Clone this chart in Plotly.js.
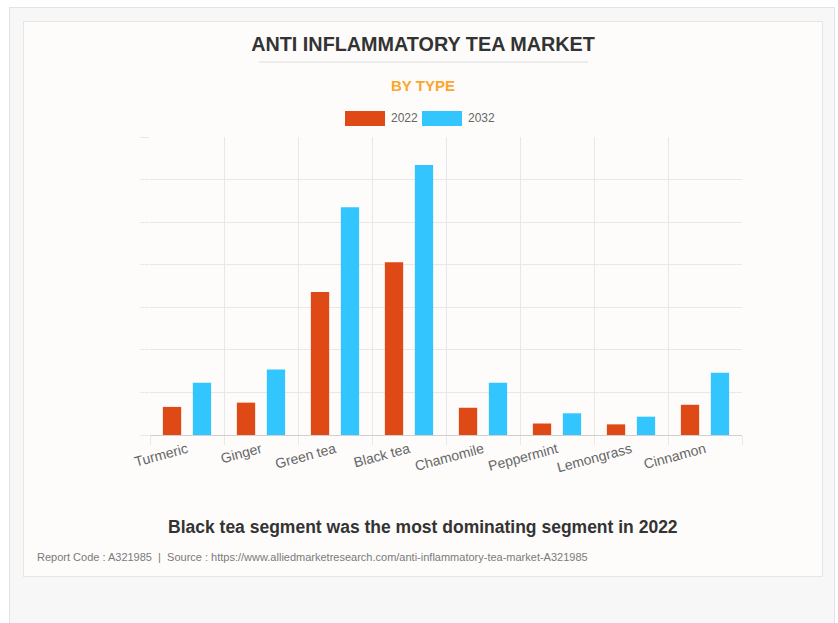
<!DOCTYPE html>
<html>
<head>
<meta charset="utf-8">
<script src="https://cdn.plot.ly/plotly-3.0.1.min.js"></script>
<style>
  html, body { margin:0; padding:0; width:838px; height:623px; overflow:hidden; background:#ffffff; }
  #outer { position:absolute; left:9px; top:7px; width:826px; height:640px; background:#f7f7f7; border:1px solid #e3e3e3; box-sizing:border-box; }
  #card { position:absolute; left:23px; top:21px; width:800px; height:556px; background:#fdfcfb; border:1px solid #e6e6e6; box-sizing:border-box; }
  #chart { position:absolute; left:0; top:0; width:838px; height:623px; }
</style>
</head>
<body>
<div id="outer"></div>
<div id="card"></div>
<div id="chart"></div>
<script>
// ---- data ----
const categories = ["Turmeric", "Ginger", "Green tea", "Black tea", "Chamomile", "Peppermint", "Lemongrass", "Cinnamon"];
const seriesNames = ["2022", "2032"];
const values2022 = [66, 76, 336, 406, 64, 27, 25, 71];
const values2032 = [123, 154, 535, 634, 123, 51, 43, 146];
const titleText = "ANTI INFLAMMATORY TEA MARKET";
const subtitleText = "BY TYPE";
const captionText = "Black tea segment was the most dominating segment in 2022";
const footerText = "Report Code : A321985&nbsp;&nbsp;|&nbsp;&nbsp;Source : https://www.alliedmarketresearch.com/anti-inflammatory-tea-market-A321985";

// ---- styling ----
const colors = ["#DF4916", "#33C6FE"];
const W = 838, H = 623;
const M = { l: 150, r: 96, t: 137, b: 188 };
const PW = W - M.l - M.r, PH = H - M.t - M.b;
const px = x => (x - M.l) / PW;
const py = y => (H - M.b - y) / PH;
const FONT = "Liberation Sans, Arial, Helvetica, sans-serif";
const GRID = "#e8e8e8";

const traces = [values2022, values2032].map((vals, i) => ({
  type: "bar",
  name: seriesNames[i],
  x: categories,
  y: vals,
  marker: { color: colors[i] },
  hoverinfo: "x+y+name"
}));

const legendX = [345, 422];
const shapes = [
  { type: "line", xref: "paper", yref: "paper", x0: px(259), x1: px(588), y0: py(62), y1: py(62), line: { color: "#dcdcdc", width: 1 } }
];
const annotations = [
  { text: "<b>" + subtitleText + "</b>", xref: "paper", yref: "paper", x: px(423), y: py(85), xanchor: "center", yanchor: "middle", showarrow: false, font: { family: FONT, size: 15, color: "#FBA62C" } },
  { text: "<b>" + captionText + "</b>", xref: "paper", yref: "paper", x: px(423), y: py(527), xanchor: "center", yanchor: "middle", showarrow: false, font: { family: FONT, size: 17.5, color: "#333333" } },
  { text: footerText, xref: "paper", yref: "paper", x: px(35), y: py(557), xanchor: "left", yanchor: "middle", showarrow: false, font: { family: FONT, size: 11, color: "#7a7a7a" } }
];
seriesNames.forEach((n, i) => {
  shapes.push({ type: "rect", xref: "paper", yref: "paper", x0: px(legendX[i]), x1: px(legendX[i] + 40), y0: py(126), y1: py(111), fillcolor: colors[i], line: { width: 0 } });
  annotations.push({ text: n, xref: "paper", yref: "paper", x: px(legendX[i] + 44), y: py(118.5), xanchor: "left", yanchor: "middle", showarrow: false, font: { family: FONT, size: 12, color: "#666666" } });
});

const layout = {
  width: W, height: H,
  margin: M,
  paper_bgcolor: "rgba(0,0,0,0)",
  plot_bgcolor: "rgba(0,0,0,0)",
  showlegend: false,
  barmode: "group",
  bargap: 0.19,
  bargroupgap: 0.39,
  title: {
    text: "<b>" + titleText + "</b>",
    xref: "container", yref: "container",
    x: 423 / W, y: 1 - 44 / H, xanchor: "center", yanchor: "middle",
    font: { family: FONT, size: 19.8, color: "#333333" }
  },
  xaxis: {
    type: "category",
    tickson: "boundaries",
    ticks: "outside", ticklen: 9, tickcolor: GRID,
    showgrid: true, gridcolor: GRID, gridwidth: 1,
    showline: true, linecolor: "#cfcfcf", linewidth: 1,
    tickangle: -15,
    tickfont: { family: FONT, size: 14, color: "#666666" }
  },
  yaxis: {
    range: [0, 700], dtick: 100,
    showticklabels: false,
    ticks: "outside", ticklen: 9, tickcolor: GRID,
    showgrid: true, gridcolor: GRID, gridwidth: 1,
    zeroline: false, showline: false
  },
  shapes: shapes,
  annotations: annotations
};

Plotly.newPlot("chart", traces, layout, { displayModeBar: false, staticPlot: true });
</script>
</body>
</html>
